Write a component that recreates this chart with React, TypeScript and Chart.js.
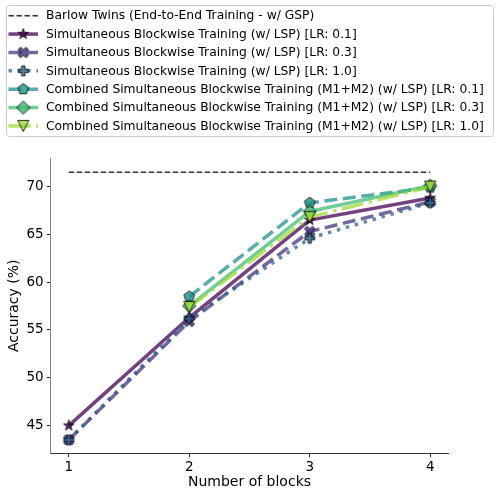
import React, { useEffect, useRef } from "react";
import { Chart, registerables } from "chart.js";

Chart.register(...registerables);

// ---------------- data ----------------
const blocks = [1, 2, 3, 4];
const yTickValues = [45, 50, 55, 60, 65, 70];

const barlowTwins = [71.5, 71.5, 71.5, 71.5];
const simLR01 = [45.0, 56.3, 66.5, 68.8];
const simLR03 = [43.5, 55.9, 65.3, 68.4];
const simLR10 = [43.5, 56.2, 64.6, 68.3];
const combLR01 = [null, 58.5, 68.3, 69.9];
const combLR03 = [null, 57.5, 67.4, 70.1];
const combLR10 = [null, 57.4, 66.8, 70.0];

const seriesLabels = [
  "Barlow Twins (End-to-End Training - w/ GSP)",
  "Simultaneous Blockwise Training (w/ LSP) [LR: 0.1]",
  "Simultaneous Blockwise Training (w/ LSP) [LR: 0.3]",
  "Simultaneous Blockwise Training (w/ LSP) [LR: 1.0]",
  "Combined Simultaneous Blockwise Training (M1+M2) (w/ LSP) [LR: 0.1]",
  "Combined Simultaneous Blockwise Training (M1+M2) (w/ LSP) [LR: 0.3]",
  "Combined Simultaneous Blockwise Training (M1+M2) (w/ LSP) [LR: 1.0]",
];
const seriesValues = [barlowTwins, simLR01, simLR03, simLR10, combLR01, combLR03, combLR10];

const xTitle = "Number of blocks";
const yTitle = "Accuracy (%)";

// ---------------- styles ----------------
const FONT = '"DejaVu Sans", "Liberation Sans", sans-serif';
const LW = 3.5;
const LINE_ALPHA = 0.75;
const MARK_ALPHA = 0.82;
const colors = ["#333333", "#440154", "#46337f", "#33638d", "#20928c", "#3fbc73", "#9fda3a"];
const dashes: number[][] = [
  [5.5, 2.5],
  [],
  [13, 5.6],
  [3.5, 5.8],
  [13, 5.6],
  [],
  [22, 5.6, 3.5, 5.6],
];
const widths = [1.5, LW, LW, LW, LW, LW, LW];
const markerKinds = ["none", "star", "x", "plus", "pentagon", "diamond", "tri"];

function hexA(hex: string, a: number) {
  const r = parseInt(hex.slice(1, 3), 16);
  const g = parseInt(hex.slice(3, 5), 16);
  const b = parseInt(hex.slice(5, 7), 16);
  return `rgba(${r},${g},${b},${a})`;
}

function polyPath(ctx: CanvasRenderingContext2D, pts: [number, number][]) {
  ctx.beginPath();
  pts.forEach(([x, y], i) => (i ? ctx.lineTo(x, y) : ctx.moveTo(x, y)));
  ctx.closePath();
}

function makeMarker(kind: string, fill: string): HTMLCanvasElement | string {
  if (kind === "none") return "circle";
  const S = 20;
  const c = document.createElement("canvas");
  c.width = S;
  c.height = S;
  const ctx = c.getContext("2d")!;
  ctx.translate(S / 2, S / 2);
  let pts: [number, number][] = [];
  if (kind === "star") {
    const r = 5.6, ri = r * 0.381;
    for (let i = 0; i < 10; i++) {
      const a = -Math.PI / 2 + (i * Math.PI) / 5;
      const rr = i % 2 ? ri : r;
      pts.push([rr * Math.cos(a), rr * Math.sin(a)]);
    }
  } else if (kind === "plus" || kind === "x") {
    const r = kind === "plus" ? 5.0 : 5.6;
    const base: [number, number][] = [
      [-1, -3], [-1, -1], [-3, -1], [-3, 1], [-1, 1], [-1, 3],
      [1, 3], [1, 1], [3, 1], [3, -1], [1, -1], [1, -3],
    ];
    const rot = kind === "x" ? Math.PI / 4 : 0;
    pts = base.map(([x, y]) => {
      const X = (x * r) / 3, Y = (y * r) / 3;
      return [X * Math.cos(rot) - Y * Math.sin(rot), X * Math.sin(rot) + Y * Math.cos(rot)];
    });
  } else if (kind === "pentagon") {
    const r = 5.6;
    for (let i = 0; i < 5; i++) {
      const a = -Math.PI / 2 + (i * 2 * Math.PI) / 5;
      pts.push([r * Math.cos(a), r * Math.sin(a)]);
    }
  } else if (kind === "diamond") {
    const r = 6.6;
    pts = [[0, -r], [r, 0], [0, r], [-r, 0]];
  } else if (kind === "tri") {
    const r = 5.6;
    pts = [[0, r], [-r, -r], [r, -r]];
  }
  polyPath(ctx, pts);
  ctx.fillStyle = fill;
  ctx.fill();
  ctx.lineWidth = 1;
  ctx.lineJoin = "miter";
  ctx.strokeStyle = "rgba(0,0,0,0.8)";
  ctx.stroke();
  return c;
}

const legendPlugin = {
  id: "mplLegend",
  afterDraw(chart: any) {
    const ctx: CanvasRenderingContext2D = chart.ctx;
    const markers: any[] = chart.$markers || [];
    ctx.save();
    // frame
    const bx = 6.5, by = 5.5, bw = 487, bh = 131, rad = 3;
    ctx.beginPath();
    ctx.moveTo(bx + rad, by);
    ctx.lineTo(bx + bw - rad, by);
    ctx.quadraticCurveTo(bx + bw, by, bx + bw, by + rad);
    ctx.lineTo(bx + bw, by + bh - rad);
    ctx.quadraticCurveTo(bx + bw, by + bh, bx + bw - rad, by + bh);
    ctx.lineTo(bx + rad, by + bh);
    ctx.quadraticCurveTo(bx, by + bh, bx, by + bh - rad);
    ctx.lineTo(bx, by + rad);
    ctx.quadraticCurveTo(bx, by, bx + rad, by);
    ctx.closePath();
    ctx.fillStyle = "rgba(255,255,255,0.8)";
    ctx.fill();
    ctx.strokeStyle = "#cccccc";
    ctx.lineWidth = 1;
    ctx.stroke();

    const y0 = 15.7, step = 18.38;
    seriesLabels.forEach((label, i) => {
      const cy = y0 + i * step;
      ctx.save();
      ctx.beginPath();
      ctx.setLineDash(dashes[i]);
      ctx.lineWidth = widths[i];
      ctx.strokeStyle = i === 0 ? colors[0] : hexA(colors[i], LINE_ALPHA);
      ctx.moveTo(8.5, cy);
      ctx.lineTo(38, cy);
      ctx.stroke();
      ctx.restore();
      const m = markers[i];
      if (m && typeof m !== "string") {
        ctx.drawImage(m, 23.3 - m.width / 2, cy - m.height / 2);
      }
      ctx.fillStyle = "#000";
      ctx.font = `12.3px ${FONT}`;
      ctx.textBaseline = "middle";
      ctx.textAlign = "left";
      ctx.fillText(label, 46, cy + 0.5);
    });
    ctx.restore();
  },
};

export default function App() {
  const ref = useRef<HTMLCanvasElement | null>(null);
  useEffect(() => {
    if (!ref.current) return;
    const markers = markerKinds.map((k, i) => makeMarker(k, hexA(colors[i], MARK_ALPHA)));
    const datasets = seriesValues.map((vals, i) => ({
      label: seriesLabels[i],
      data: blocks.map((b, j) => ({ x: b, y: vals[j] })),
      borderColor: i === 0 ? colors[0] : hexA(colors[i], LINE_ALPHA),
      backgroundColor: hexA(colors[i], MARK_ALPHA),
      borderWidth: widths[i],
      borderDash: dashes[i],
      pointStyle: markers[i] as any,
      pointRadius: i === 0 ? 0 : 6,
      pointHoverRadius: i === 0 ? 0 : 6,
      tension: 0,
      fill: false,
      spanGaps: false,
      order: seriesValues.length - i,
    }));
    const chart: any = new Chart(ref.current, {
      type: "line",
      data: { datasets },
      options: {
        animation: false,
        responsive: false,
        devicePixelRatio: 1,
        layout: { padding: { top: 158.3, right: 50.7, left: 0, bottom: 0 } },
        plugins: { legend: { display: false }, tooltip: { enabled: false } },
        scales: {
          x: {
            type: "linear",
            min: 0.85,
            max: 4.15,
            afterBuildTicks: (s: any) => {
              s.ticks = blocks.map((v) => ({ value: v }));
            },
            afterFit: (s: any) => {
              s.height = 43.7;
            },
            ticks: {
              callback: (v: any) => String(v),
              font: { family: FONT, size: 13.5 },
              color: "#000",
              padding: 2,
              maxRotation: 0,
              autoSkip: false,
            },
            grid: { display: true, drawOnChartArea: false, drawTicks: true, tickLength: 4, color: "#333" },
            border: { display: true, color: "#333", width: 1 },
            title: {
              display: true,
              text: xTitle,
              font: { family: FONT, size: 14 },
              color: "#000",
              padding: { top: 0, bottom: 6 },
            },
          },
          y: {
            type: "linear",
            min: 42.1,
            max: 72.96,
            afterBuildTicks: (s: any) => {
              s.ticks = yTickValues.map((v) => ({ value: v }));
            },
            afterFit: (s: any) => {
              s.width = 50.7;
            },
            ticks: {
              callback: (v: any) => String(v),
              font: { family: FONT, size: 13.5 },
              color: "#000",
              padding: 3,
            },
            grid: { display: true, drawOnChartArea: false, drawTicks: true, tickLength: 4, color: "#333" },
            border: { display: true, color: "#808080", width: 1 },
            title: {
              display: true,
              text: yTitle,
              font: { family: FONT, size: 14 },
              color: "#000",
              padding: { top: 5.6, bottom: 0 },
            },
          },
        },
      },
      plugins: [legendPlugin],
    });
    chart.$markers = markers;
    chart.draw();
    return () => chart.destroy();
  }, []);
  return (
    <div style={{ position: "absolute", left: 0, top: 0, width: 499, height: 497, background: "#fff" }}>
      <canvas ref={ref} width={499} height={497} style={{ display: "block", width: 499, height: 497 }} />
    </div>
  );
}
